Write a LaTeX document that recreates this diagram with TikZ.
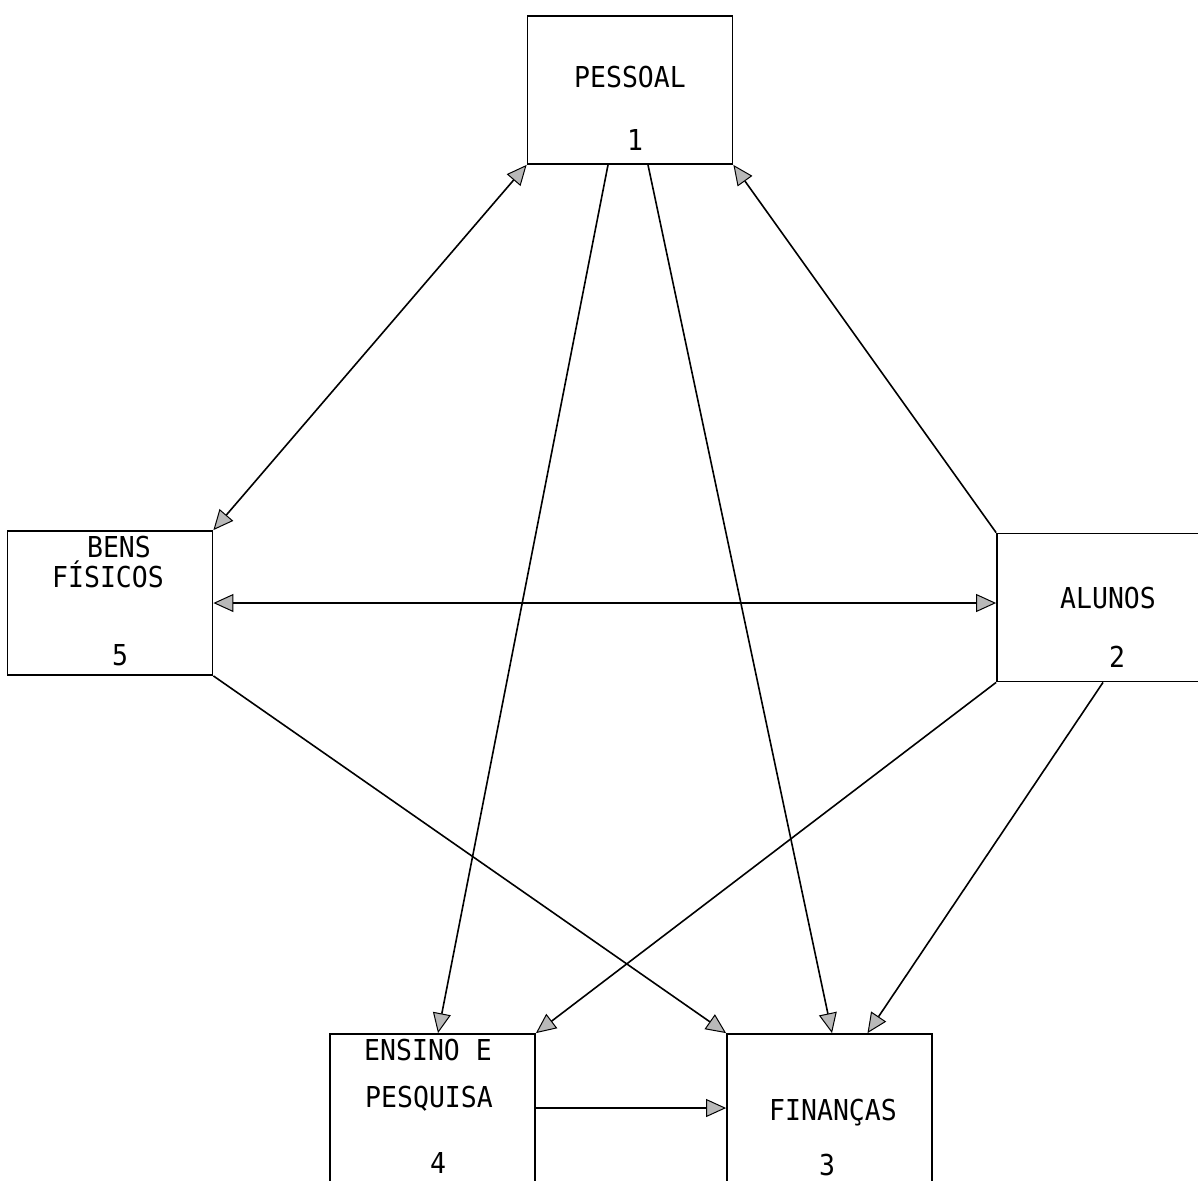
\documentclass[tikz,border=0pt]{standalone}
\usepackage{fontspec}
\newfontfamily\typewr[FakeStretch=0.92]{DejaVu Sans Mono}
\usetikzlibrary{arrows.meta}

\begin{document}
\begin{tikzpicture}[x=0.5pt,y=-0.5pt,
  box/.style={draw,line width=0.9pt,minimum width=102.5pt,minimum height=74pt,inner sep=0pt},
  lbl/.style={font=\typewr\fontsize{14.4}{16}\selectfont,inner sep=0pt},
  tip/.style={Triangle[length=10pt,width=9pt,fill=gray!55,line width=0.5pt]},
  ar/.style={-{Triangle[length=10pt,width=9pt,fill=gray!55,line width=0.5pt]},line width=0.8pt},
  dar/.style={{Triangle[length=10pt,width=9pt,fill=gray!55,line width=0.5pt]}-{Triangle[length=10pt,width=9pt,fill=gray!55,line width=0.5pt]},line width=0.8pt}]
\useasboundingbox (0,0) rectangle (1198,1180);
\clip (0,0) rectangle (1198,1180);
% the five areas
\node[box] (pes) at (630,90) {};
\node[box,minimum height=72pt] (bens) at (110,603) {};
\node[box,minimum width=104pt] (alu) at (1101,607.5) {};
\node[box] (ens) at (432.5,1108) {};
\node[box] (fin) at (829.5,1108) {};
% texts
\node[lbl] (pest) at (630,77) {PESSOAL};
\node[lbl] (pesn) at (635,140) {1};
\node[lbl] (benst) at (119,547) {BENS};
\node[lbl] (fist) at (108,574) {FÍSICOS};
\node[lbl] (bensn) at (120,655) {5};
\node[lbl] (alut) at (1108,598) {ALUNOS};
\node[lbl] (alun) at (1117,657) {2};
\node[lbl] (enst) at (428,1050) {ENSINO E};
\node[lbl] (pqst) at (429,1099) {PESQUISA};
\node[lbl] (ensn) at (438,1163) {4};
\node[lbl] (fint) at (833,1113) {FINANÇAS};
\node[lbl] (finn) at (827,1165) {3};
% flows
\draw[dar] (pes.south west) -- (bens.north east);
\draw[ar] (alu.north west) -- (pes.south east);
\draw[ar] ([xshift=-11pt]pes.south) -- ([xshift=2.75pt]ens.north);
\draw[ar] ([xshift=9pt]pes.south) -- ([xshift=1.25pt]fin.north);
\draw[dar] (bens.east) -- (bens.east -| alu.west);
\draw[ar] (bens.south east) -- (fin.north west);
\draw[ar] (alu.south west) -- (ens.north east);
\draw[ar] ([xshift=1pt]alu.south) -- ([xshift=19pt]fin.north);
\draw[ar] (ens.east) -- (fin.west);
\end{tikzpicture}
\end{document}
